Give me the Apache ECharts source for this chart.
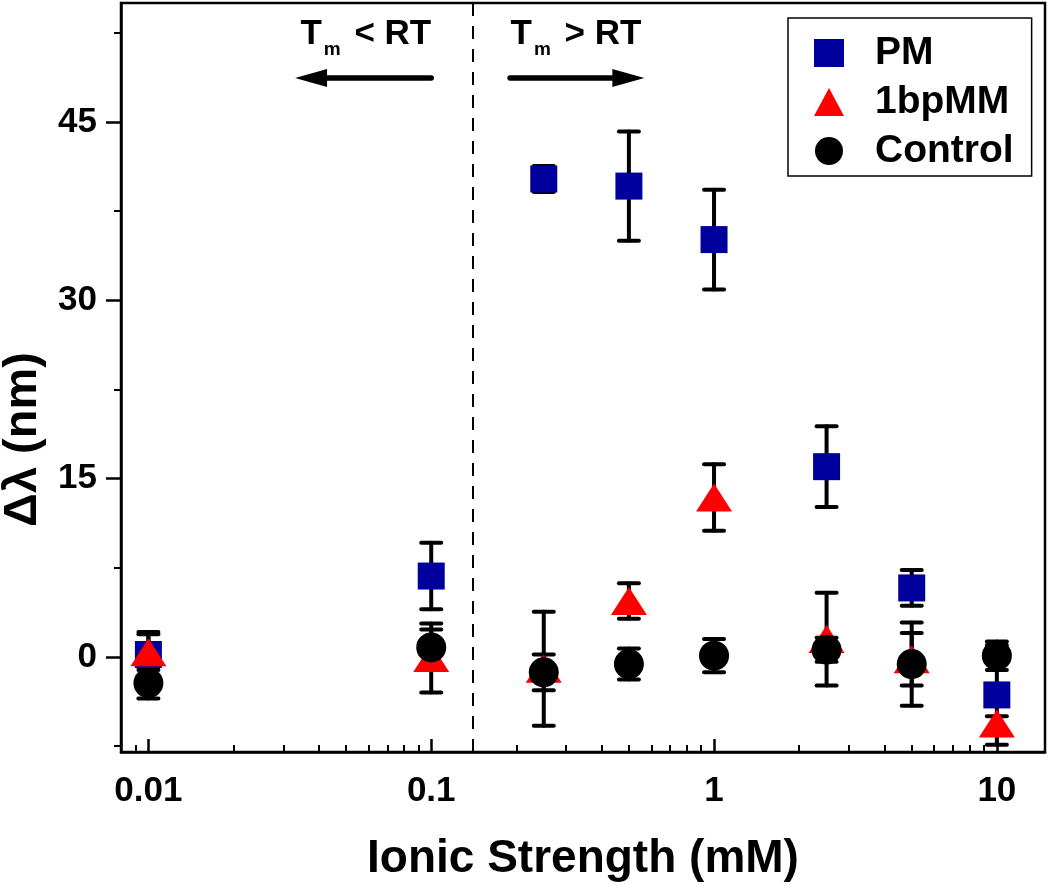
<!DOCTYPE html>
<html><head><meta charset="utf-8">
<script src="https://cdn.jsdelivr.net/npm/echarts@6/dist/echarts.min.js"></script>
<style>html,body{margin:0;padding:0;background:#fff}#c{width:1050px;height:885px}</style>
</head><body><div id="c"></div>
<script>
// ---- data ----
const ionic = [0.01, 0.1, 0.25, 0.5, 1, 2.5, 5, 10];
const pm      = [0.2, 6.8, 40.2, 39.6, 35.1, 16.0, 5.8, -3.2];
const pmErr   = [1.9, 2.8, 1.1, 4.6, 4.2, 3.4, 1.5, 4.2];
const mm      = [0.4, -0.1, -1.0, 4.7, 13.4, 1.5, -0.2, -5.6];
const mmErr   = [1.5, 2.9, 4.8, 1.5, 2.8, 3.9, 2.2, 0.6];
const ctrl    = [-2.2, 0.8, -1.3, -0.6, 0.1, 0.6, -0.6, 0.1];
const ctrlErr = [1.3, 1.5, 1.5, 1.3, 1.4, 1.0, 3.5, 1.2];
const seriesNames = ['PM', '1bpMM', 'Control'];
const xMajorTicks = [0.01, 0.1, 1, 10];
const xMinorTicks = [0.009, 0.02, 0.03, 0.04, 0.05, 0.06, 0.07, 0.08, 0.09,
                     0.2, 0.3, 0.4, 0.5, 0.6, 0.7, 0.8, 0.9, 2, 3, 4, 5, 6, 7, 8, 9];
const yMajorTicks = [0, 15, 30, 45];
const yMinorTicks = [-7.5, 7.5, 22.5, 37.5, 52.5];
const boundaryX = 0.14;
// annotations (data coordinates)
const arrowLeft  = [0.1, 0.033, 48.7];
const arrowRight = [0.19, 0.567, 48.7];
const textLeft   = [0.0587, 52.4, '{b|T}{s|m}{b| < RT}'];
const textRight  = [0.325, 52.4, '{b|T}{s|m}{b| > RT}'];

const FONT = "'Liberation Sans', Arial, sans-serif";
const BLUE = '#00009C', RED = '#FF0000', BLACK = '#000000';

function pts(ys) { return ionic.map((x, i) => [x, ys[i]]); }
function errPts(ys, es) { return ionic.map((x, i) => [x, ys[i], es[i]]); }

function errRender(params, api) {
  const x = api.value(0), y = api.value(1), e = api.value(2);
  const t = api.coord([x, y + e]), b = api.coord([x, y - e]);
  const hw = 10;
  const st = { stroke: BLACK, lineWidth: 4, lineCap: 'round' };
  return { type: 'group', children: [
    { type: 'line', shape: { x1: t[0], y1: t[1], x2: b[0], y2: b[1] }, style: st },
    { type: 'line', shape: { x1: t[0] - hw, y1: t[1], x2: t[0] + hw, y2: t[1] }, style: st },
    { type: 'line', shape: { x1: b[0] - hw, y1: b[1], x2: b[0] + hw, y2: b[1] }, style: st }
  ]};
}
function arrowRender(params, api) {
  const a = api.coord([api.value(0), api.value(2)]);
  const b = api.coord([api.value(1), api.value(2)]);
  const dir = Math.sign(b[0] - a[0]);
  const hl = 32, hh = 9;
  return { type: 'group', children: [
    { type: 'line', shape: { x1: a[0], y1: a[1], x2: b[0] - dir * hl * 0.8, y2: b[1] },
      style: { stroke: BLACK, lineWidth: 5.5, lineCap: 'round' } },
    { type: 'polygon', shape: { points: [[b[0], b[1]], [b[0] - dir * hl, b[1] - hh], [b[0] - dir * hl, b[1] + hh]] },
      style: { fill: BLACK } }
  ]};
}
function textRender(params, api) {
  const p = api.coord([api.value(0), api.value(1)]);
  const txt = params.dataIndex === 0 ? textLeft[2] : textRight[2];
  return { type: 'text', x: p[0], y: p[1], style: {
    text: txt, align: 'center', verticalAlign: 'middle',
    rich: {
      b: { fontSize: 35, fontWeight: 'bold', fontFamily: FONT, fill: BLACK },
      s: { fontSize: 19, fontWeight: 'bold', fontFamily: FONT, fill: BLACK, padding: [32, 4, 0, 2] }
    }
  }};
}

const chart = echarts.init(document.getElementById('c'), null, { renderer: 'canvas' });
const xCommon = { type: 'log', logBase: 10, min: 0.008, max: 14.8, gridIndex: 0, splitLine: { show: false } };
const yCommon = { type: 'value', min: -8, max: 55, gridIndex: 0, splitLine: { show: false } };

chart.setOption({
  animation: false,
  backgroundColor: '#fff',
  grid: { left: 121, right: 5, top: 3, bottom: 133, show: true, borderColor: BLACK, borderWidth: 2.5,
          containLabel: false, outerBoundsMode: 'none' },
  legend: {
    orient: 'vertical', left: 788, top: 18,
    borderColor: BLACK, borderWidth: 1.5, padding: [15, 18, 5, 26],
    itemGap: 9, itemWidth: 30, itemHeight: 28,
    textStyle: { fontSize: 39, lineHeight: 40, fontWeight: 'bold', fontFamily: FONT, color: BLACK, padding: [0, 0, 0, 26] },
    data: [{ name: 'PM', icon: 'rect' }, { name: '1bpMM', icon: 'triangle' }, { name: 'Control', icon: 'circle' }]
  },
  xAxis: [
    Object.assign({}, xCommon, {
      name: 'Ionic Strength (mM)', nameLocation: 'middle', nameGap: 84,
      nameTextStyle: { fontSize: 46, fontWeight: 'bold', fontFamily: FONT, color: BLACK },
      axisLine: { show: true, onZero: false, lineStyle: { color: BLACK, width: 2.5 } },
      axisTick: { show: true, inside: true, length: 13, lineStyle: { color: BLACK, width: 2.5 }, customValues: xMajorTicks },
      minorTick: { show: false },
      axisLabel: { show: true, customValues: xMajorTicks, margin: 22, fontSize: 35, fontWeight: 'bold', fontFamily: FONT, color: BLACK,
                   formatter: v => String(v) }
    }),
    Object.assign({}, xCommon, {
      position: 'bottom',
      axisLine: { show: false, onZero: false },
      axisTick: { show: true, inside: true, length: 7, lineStyle: { color: BLACK, width: 2 }, customValues: xMinorTicks },
      axisLabel: { show: false }
    })
  ],
  yAxis: [
    Object.assign({}, yCommon, {
      name: 'Δλ (nm)', nameLocation: 'middle', nameGap: 74, nameRotate: 90,
      nameTextStyle: { fontSize: 47, fontWeight: 'bold', fontFamily: FONT, color: BLACK, padding: [0, 124, 0, 0] },
      axisLine: { show: true, onZero: false, lineStyle: { color: BLACK, width: 2.5 } },
      axisTick: { show: true, inside: false, length: 15, lineStyle: { color: BLACK, width: 2.5 }, customValues: yMajorTicks },
      axisLabel: { show: true, customValues: yMajorTicks, margin: 24, fontSize: 35, fontWeight: 'bold', fontFamily: FONT, color: BLACK }
    }),
    Object.assign({}, yCommon, {
      position: 'left',
      axisLine: { show: false, onZero: false },
      axisTick: { show: true, inside: false, length: 7, lineStyle: { color: BLACK, width: 2 }, customValues: yMinorTicks },
      axisLabel: { show: false }
    })
  ],
  series: [
    { type: 'custom', name: 'PM err', renderItem: errRender, data: errPts(pm, pmErr), z: 2, clip: false },
    { type: 'scatter', name: 'PM', data: pts(pm), symbol: 'rect', symbolSize: 27, itemStyle: { color: BLUE, opacity: 1 }, z: 2 },
    { type: 'custom', name: '1bpMM err', renderItem: errRender, data: errPts(mm, mmErr), z: 2, clip: false },
    { type: 'scatter', name: '1bpMM', data: pts(mm), symbol: 'triangle', symbolSize: [36, 28], itemStyle: { color: RED, opacity: 1 }, z: 2 },
    { type: 'custom', name: 'Control err', renderItem: errRender, data: errPts(ctrl, ctrlErr), z: 2, clip: false },
    { type: 'scatter', name: 'Control', data: pts(ctrl), symbol: 'circle', symbolSize: 30, itemStyle: { color: BLACK, opacity: 1 }, z: 2,
      markLine: { silent: true, symbol: 'none', label: { show: false },
        lineStyle: { color: BLACK, width: 2, type: [13, 10] }, data: [{ xAxis: boundaryX }] } },
    { type: 'custom', name: 'arrows', renderItem: arrowRender, data: [arrowLeft, arrowRight], z: 3, clip: false },
    { type: 'custom', name: 'notes', renderItem: textRender, data: [textLeft.slice(0, 2), textRight.slice(0, 2)], z: 3, clip: false }
  ]
});
</script></body></html>
